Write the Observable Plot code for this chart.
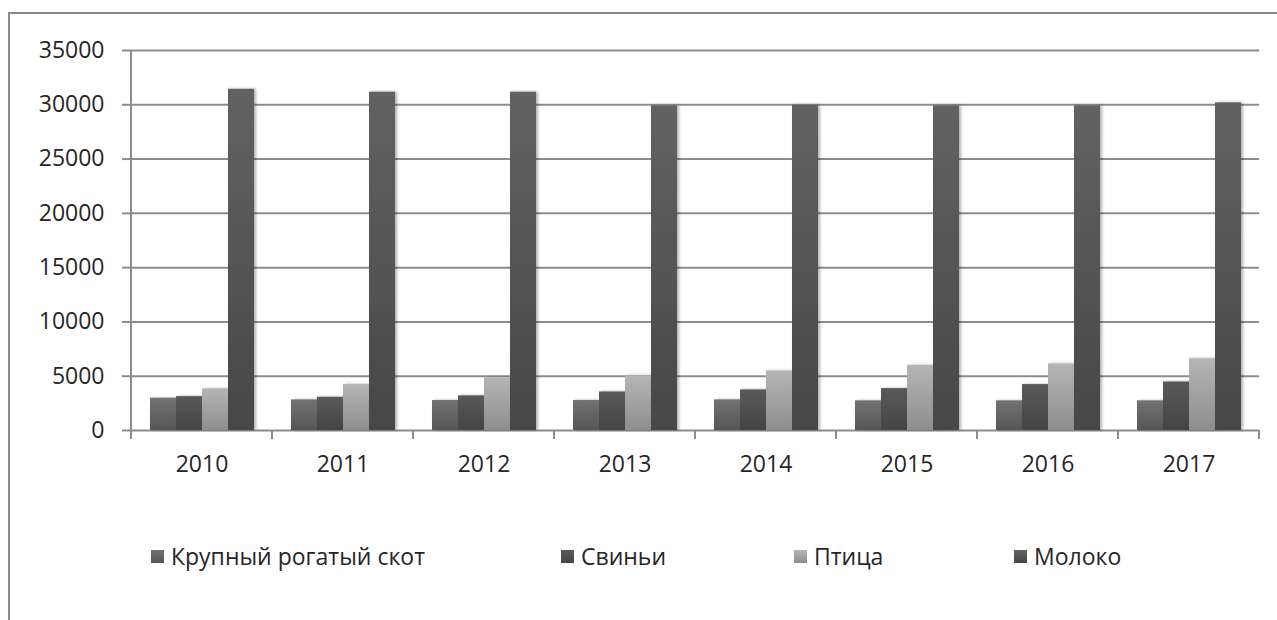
<!DOCTYPE html>
<html>
<head>
<meta charset="utf-8">
<script src="https://cdn.jsdelivr.net/npm/d3@7"></script>
<script src="https://cdn.jsdelivr.net/npm/@observablehq/plot@0.6"></script>
<style>
  html, body { margin: 0; padding: 0; background: #fff; overflow: hidden; }
  #wrap { position: relative; width: 1277px; height: 620px; font-family: "Open Sans", sans-serif; color: #262626; }
  #frame { position: absolute; left: 8px; top: 12px; width: 1400px; height: 800px; border-left: 2px solid #8a8a8a; border-top: 2px solid #8a8a8a; box-sizing: border-box; }
  #chart { position: absolute; left: 0; top: 0; }
  #chart svg [aria-label^="y-axis"] line, #chart svg [aria-label^="y-axis"] path,
  #chart svg [aria-label^="fx-axis"] line, #chart svg [aria-label^="fx-axis"] path { stroke: #8c8c8c; stroke-width: 2px; }
  #legend { position: absolute; left: 0; top: 500px; width: 1277px; height: 120px; }
  .item { position: absolute; top: 40px; display: flex; align-items: center; font-size: 23px; color: #262626; white-space: nowrap; }
  .sw { width: 13px; height: 13px; margin-right: 7px; }
</style>
</head>
<body>
<div id="wrap">
  <div id="frame"></div>
  <div id="chart"></div>
  <div id="legend"></div>
</div>
<script>
const years = [2010, 2011, 2012, 2013, 2014, 2015, 2016, 2017];
const series = ["Крупный рогатый скот", "Свиньи", "Птица", "Молоко"];
const krs    = [2970, 2820, 2760, 2760, 2820, 2730, 2730, 2730];
const svini  = [3120, 3060, 3190, 3550, 3740, 3860, 4230, 4470];
const ptitsa = [3830, 4230, 4840, 5030, 5480, 6000, 6130, 6610];
const moloko = [31430, 31160, 31160, 29900, 29950, 29900, 29900, 30180];
const yTicks = [0, 5000, 10000, 15000, 20000, 25000, 30000, 35000];

const grads = [
  ["#727272", "#565656"],
  ["#5a5a5a", "#444444"],
  ["#b5b5b5", "#8e8e8e"],
  ["#626262", "#474747"]
];
const legendLeft = [151, 561, 794, 1014];

const valuesBySeries = [krs, svini, ptitsa, moloko];
const rows = [];
years.forEach((yr, i) => {
  series.forEach((s, j) => rows.push({year: yr, series: s, value: valuesBySeries[j][i]}));
});

const plot = Plot.plot({
  width: 1277,
  height: 500,
  marginLeft: 127,
  marginRight: 15,
  marginTop: 50,
  marginBottom: 70,
  style: {fontFamily: "'Open Sans', sans-serif", fontSize: "23px", color: "#262626", background: "transparent", overflow: "visible"},
  facet: {data: rows, x: "year"},
  fx: {domain: years, padding: 0, tickSize: 0, tickPadding: 25, tickFormat: d => String(d), label: null},
  x: {domain: series, paddingInner: 0, paddingOuter: 0.7, axis: null},
  y: {domain: [0, 35000], ticks: yTicks, tickSize: 9, tickPadding: 18, tickFormat: d => String(d), label: null},
  color: {type: "ordinal", domain: series, range: series.map((s, i) => `url(#grad${i})`)},
  marks: [
    Plot.ruleY(yTicks, {stroke: "#8c8c8c", strokeWidth: 2}),
    Plot.barY(rows, {x: "series", y: "value", fill: "series", insetLeft: 0, insetRight: 0}),
  ]
});

// gradients & shadow
const svg = d3.select(plot.tagName === "svg" ? plot : plot.querySelector("svg"));
const defs = svg.insert("defs", ":first-child");
grads.forEach((g, i) => {
  const lg = defs.append("linearGradient").attr("id", `grad${i}`).attr("x1", 0).attr("y1", 0).attr("x2", 0).attr("y2", 1);
  lg.append("stop").attr("offset", "0%").attr("stop-color", g[0]);
  lg.append("stop").attr("offset", "100%").attr("stop-color", g[1]);
});
const f = defs.append("filter").attr("id", "shadow").attr("x", "-20%").attr("y", "-5%").attr("width", "150%").attr("height", "110%");
f.append("feDropShadow").attr("dx", 2).attr("dy", 0).attr("stdDeviation", 1.5).attr("flood-color", "#000").attr("flood-opacity", 0.3);
svg.selectAll("rect").filter(function() { return (this.getAttribute("fill") || "").startsWith("url(") || (this.parentNode.getAttribute("fill") || "").startsWith("url("); })
  .attr("filter", "url(#shadow)");

// axis lines and category boundary ticks from the library's scales
const fx = plot.scale("fx");
const ys = plot.scale("y");
const y0 = ys.apply(0), yTop = ys.apply(35000);
const bounds = years.map(yr => fx.apply(yr)).concat([fx.apply(years[years.length - 1]) + fx.bandwidth]);
const axisG = svg.append("g").attr("stroke", "#8c8c8c").attr("stroke-width", 2);
axisG.append("line").attr("x1", bounds[0]).attr("x2", bounds[0]).attr("y1", yTop).attr("y2", y0);
bounds.forEach(b => axisG.append("line").attr("x1", b).attr("x2", b).attr("y1", y0).attr("y2", y0 + 9));

document.getElementById("chart").appendChild(plot);

// legend
const legend = document.getElementById("legend");
series.forEach((s, i) => {
  const it = document.createElement("div");
  it.className = "item";
  it.style.left = legendLeft[i] + "px";
  const sw = document.createElement("div");
  sw.className = "sw";
  sw.style.background = `linear-gradient(${grads[i][0]}, ${grads[i][1]})`;
  const tx = document.createElement("span");
  tx.textContent = s;
  it.appendChild(sw); it.appendChild(tx);
  legend.appendChild(it);
});
</script>
</body>
</html>
